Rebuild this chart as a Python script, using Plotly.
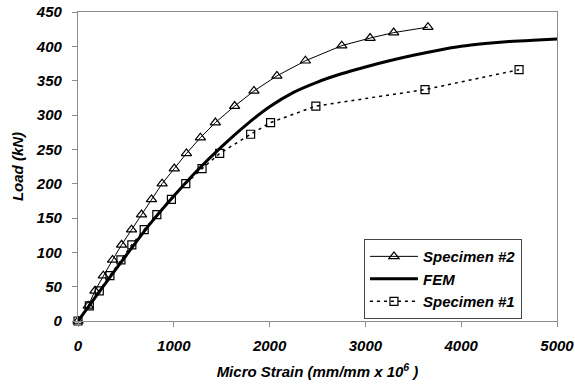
import plotly.graph_objects as go

# Specimen #2 (triangles)
spec2_x = [0, 107, 177, 264, 361, 455, 559, 663, 767, 878, 1005, 1132, 1278, 1434,
           1635, 1837, 2076, 2374, 2753, 3049, 3295, 3653]
spec2_y = [0, 22, 44, 66, 89, 111, 133, 155, 177, 200, 222, 244, 267, 289,
           313, 335, 357, 379, 401, 412, 420, 428]

# FEM curve
fem_x = [0, 250, 500, 750, 1000, 1250, 1500, 1750, 2000, 2250, 2500, 2750,
         3000, 3250, 3500, 3750, 4000, 4250, 4500, 4750, 5000]
fem_y = [0, 48, 95, 141, 182, 220, 254, 285, 312, 333, 348, 360,
         370, 379, 387, 394, 400, 404, 407, 409, 410.5]

# Specimen #1 (squares)
spec1_x = [0, 118, 222, 333, 448, 562, 691, 823, 975, 1125, 1295, 1479, 1802,
           2010, 2483, 3622, 4604]
spec1_y = [0, 22, 44, 66, 89, 111, 133, 155, 177, 200, 222, 244, 272,
           289, 313, 337, 366]

x_ticks = [0, 1000, 2000, 3000, 4000, 5000]
y_ticks = [0, 50, 100, 150, 200, 250, 300, 350, 400, 450]

FONT = "Liberation Sans, Arial, sans-serif"
BI = dict(family=FONT, size=15, color="black", style="italic", weight="bold")

fig = go.Figure()
fig.add_trace(go.Scatter(
    x=spec2_x, y=spec2_y, mode="lines+markers", name="Specimen #2",
    line=dict(color="black", width=1),
    marker=dict(symbol="triangle-up-open", size=9, color="black", line=dict(width=1.2)),
    cliponaxis=False))
fig.add_trace(go.Scatter(
    x=fem_x, y=fem_y, mode="lines", name="FEM", line_shape="spline",
    line=dict(color="black", width=3, smoothing=0.8), cliponaxis=False))
fig.add_trace(go.Scatter(
    x=spec1_x, y=spec1_y, mode="lines+markers", name="Specimen #1",
    line=dict(color="black", width=1.5, dash="3px,4px"),
    marker=dict(symbol="square-open", size=8, color="black", line=dict(width=1.2)),
    cliponaxis=False))

axis_common = dict(
    showgrid=False, zeroline=False, showline=True, linecolor="#8c8c8c", linewidth=1.2,
    mirror=True, ticks="outside", ticklen=5, tickcolor="#8c8c8c", tickwidth=1,
    tickfont=BI, automargin=False,
)

fig.update_layout(
    width=575, height=392,
    margin=dict(l=78, r=18, t=12, b=71),
    paper_bgcolor="white", plot_bgcolor="white",
    font=dict(family=FONT, color="black"),
    showlegend=True,
    legend=dict(
        x=0.597, y=0.265, xanchor="left", yanchor="top",
        bgcolor="white", bordercolor="#444444", borderwidth=1,
        font=BI, itemwidth=48, tracegroupgap=0,
    ),
    xaxis=dict(range=[0, 5000], tickvals=x_ticks, ticktext=[str(v) for v in x_ticks],
               ticklabelstandoff=6,
               title=dict(text="Micro Strain (mm/mm x 10<sup>6</sup> )", standoff=13, font=BI),
               **axis_common),
    yaxis=dict(range=[0, 450], tickvals=y_ticks, ticktext=[str(v) for v in y_ticks],
               ticklabelstandoff=7,
               title=dict(text="Load (kN)", standoff=8, font=BI),
               **axis_common),
)

fig.write_html("out.html")
